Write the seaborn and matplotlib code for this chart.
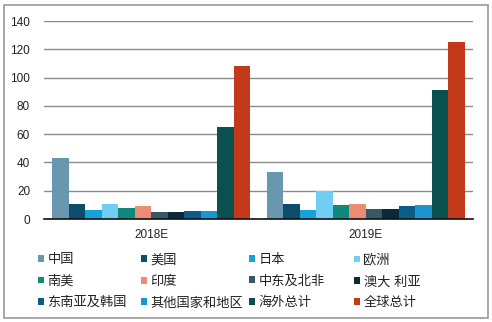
import matplotlib
matplotlib.use("Agg")
import matplotlib.pyplot as plt
from matplotlib.patches import Rectangle, Patch
import seaborn as sns
import pandas as pd

years = ["2018E", "2019E"]
regions = ["中国", "美国", "日本", "欧洲", "南美", "印度", "中东及北非", "澳大利亚",
           "东南亚及韩国", "其他国家和地区", "海外总计", "全球总计"]
values_2018 = [43, 10.6, 6.4, 10.6, 7.8, 9.2, 5.0, 5.0, 5.7, 5.7, 65, 108.2]
values_2019 = [33.2, 10.6, 6.4, 19.8, 9.9, 10.6, 7.0, 7.0, 9.2, 9.9, 91.2, 125.2]
colors = ["#6A97B0", "#0C4D6C", "#14A3DA", "#72CDF2", "#0E8A7C", "#EC8C74",
          "#3A5766", "#0A2A3C", "#0B5D88", "#1C96CE", "#0A504E", "#C23A1A"]
legend_labels = ["中国", "美国", "日本", "欧洲", "南美", "印度", "中东及北非", "澳大 利亚",
                 "东南亚及韩国", "其他国家和地区", "海外总计", "全球总计"]
yticks = [0, 20, 40, 60, 80, 100, 120, 140]

df = pd.DataFrame({
    "year": [y for y in years for _ in regions],
    "region": regions * 2,
    "value": values_2018 + values_2019,
})

sns.set_theme(style="white")
plt.rcParams["font.family"] = ["Liberation Sans", "Noto Sans CJK SC", "DejaVu Sans"]

W, H = 492, 322
fig = plt.figure(figsize=(W / 100, H / 100), dpi=100)
ax = fig.add_axes([44 / W, 1 - 219 / H, (473 - 44) / W, (219 - 21) / H])

sns.barplot(data=df, x="year", y="value", hue="region", hue_order=regions,
            palette=colors, width=0.923, saturation=1, gap=0, legend=False,
            edgecolor="none", linewidth=0, ax=ax, zorder=3)

ax.set_ylim(0, 140)
ax.set_xlim(-0.5, 1.5)
ax.set_yticks(yticks)
ax.set_yticklabels([str(t) for t in yticks], fontsize=8.5, color="#222222")
ax.tick_params(axis="x", labelsize=8.5, colors="#222222", pad=7, length=0)
ax.tick_params(axis="y", length=0, pad=10)
ax.set_xlabel("")
ax.set_ylabel("")
ax.yaxis.grid(True, color="#8A8A8A", linewidth=1.0, zorder=0)
ax.set_axisbelow(True)
for side in ["top", "right", "left"]:
    ax.spines[side].set_visible(False)
ax.spines["bottom"].set_color("#111111")
ax.spines["bottom"].set_linewidth(1.2)
ax.spines["bottom"].set_zorder(4)

# legend: four columns at fixed positions, three rows each
col_x = [38, 141, 249, 354]
for c in range(4):
    idx = [c, c + 4, c + 8]
    handles = [Patch(facecolor=colors[i], edgecolor="none") for i in idx]
    labels = [legend_labels[i] for i in idx]
    fig.legend(handles, labels, loc="upper left",
               bbox_to_anchor=(col_x[c] / W, 1 - 254 / H),
               frameon=False, fontsize=9.5, handlelength=0.42, handleheight=0.42,
               handletextpad=0.3, labelspacing=0.7, borderpad=0, borderaxespad=0,
               labelcolor="#222222")

# outer frame around the whole chart
fig.patches.append(Rectangle((4 / W, 4 / H), (488 - 4) / W, (318 - 5) / H,
                             transform=fig.transFigure, fill=False,
                             edgecolor="#9A9A9A", linewidth=1.2))

fig.savefig("out.png", dpi=100, facecolor="white")
